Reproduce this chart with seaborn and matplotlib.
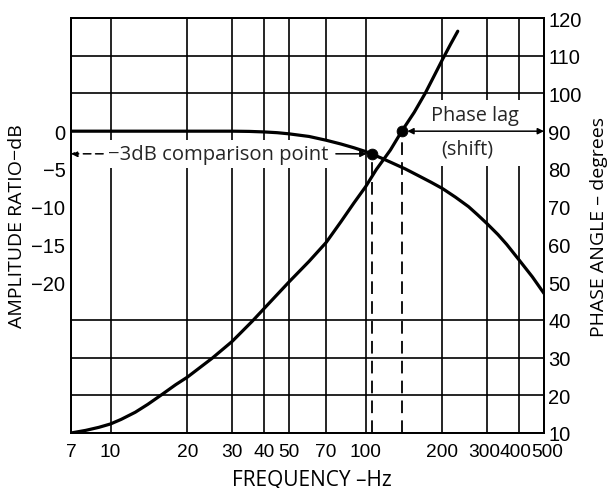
import matplotlib
matplotlib.use("Agg")
import matplotlib.pyplot as plt
import matplotlib.transforms as mtransforms
import seaborn as sns
import pandas as pd
from matplotlib.ticker import FixedLocator, NullFormatter, NullLocator
from matplotlib.patches import Rectangle

# ---- data ----
amp_freq = [7, 20, 30, 35, 40, 45, 50, 60, 70, 80, 90, 100, 106, 115, 125, 143, 160, 180, 200,
            225, 253, 275, 300, 330, 357, 400, 450, 500]
amp_db = [0, 0, 0, -0.03, -0.1, -0.2, -0.35, -0.7, -1.2, -1.7, -2.2, -2.7, -3.05, -3.55, -4.1,
          -5.0, -5.85, -6.75, -7.6, -8.75, -10.0, -11.1, -12.3, -13.7, -15.0, -17.1, -19.3, -21.5]

phase_freq = [7, 8, 9, 10, 11, 12.5, 14, 15.9, 18, 20, 25, 30, 35.9, 40, 50, 60, 70, 80, 90,
              100, 110, 125, 138.5, 155, 171, 185, 200, 215, 229.6]
phase_deg = [10, 10.7, 11.5, 12.4, 13.6, 15.5, 17.6, 20.2, 22.8, 24.8, 29.8, 34.3, 39.6, 43,
             50, 55.5, 60.5, 66, 71, 75.3, 79.8, 85, 90, 95, 100, 104.5, 109, 113, 116.5]

cutoff_hz = [106]
cutoff_db = [-3]
lag_hz = [138.5]
lag_deg = [90]

x_ticks = [7, 10, 20, 30, 40, 50, 70, 100, 200, 300, 400, 500]
x_labels = ["7", "10", "20", "30", "40", "50", "70", "100", "200", "300", "400", "500"]
x_label_shift_px = [0, 0, 0, 0, 0, 0, 0, 0, 0, -3, -3.5, 3]
db_ticks = [0, -5, -10, -15, -20]
db_labels = ["0", "\u22125", "\u221210", "\u221215", "\u221220"]
db_grid = [-40, -35, -30, -25, -20, -15, -10, -5, 0, 5, 10, 15]
deg_ticks = [10, 20, 30, 40, 50, 60, 70, 80, 90, 100, 110, 120]

amp_df = pd.DataFrame({"freq": amp_freq, "db": amp_db})
phase_df = pd.DataFrame({"freq": phase_freq, "deg": phase_deg})

sns.set_theme(style="white")
plt.rcParams["font.family"] = ["Open Sans", "DejaVu Sans"]
plt.rcParams["axes.edgecolor"] = "black"
plt.rcParams["axes.linewidth"] = 1.3
tick_font = ["Liberation Sans", "DejaVu Sans"]

fig = plt.figure(figsize=(6.16, 4.89), dpi=100)
ax = fig.add_axes([71 / 616, 1 - 434 / 489, 473 / 616, 415 / 489])
ax2 = ax.twinx()

ax.set_xscale("log")
ax.set_xlim(7, 500)
ax.set_ylim(-40, 15)
ax2.set_ylim(10, 120)

# grid
ax.xaxis.set_major_locator(FixedLocator(x_ticks))
ax.xaxis.set_minor_locator(NullLocator())
ax.set_xticklabels(x_labels, family=tick_font)
ax.set_yticks(db_ticks)
ax.set_yticklabels(db_labels, family=tick_font)
ax.yaxis.set_minor_locator(FixedLocator(db_grid))
ax.yaxis.set_minor_formatter(NullFormatter())
ax.set_axisbelow(True)
ax.grid(True, axis="x", which="major", color="black", lw=1.2)
ax.grid(True, axis="y", which="minor", color="black", lw=1.2)
ax.grid(False, axis="y", which="major")
ax2.set_yticks(deg_ticks)
ax2.set_yticklabels([str(d) for d in deg_ticks], family=tick_font)
ax2.grid(False)

for a in (ax, ax2):
    a.tick_params(axis="both", which="both", length=0, labelsize=14.5, colors="black")
ax.tick_params(axis="x", pad=7, labelsize=13.8)
ax.tick_params(axis="y", pad=4)
ax2.tick_params(axis="y", pad=3)
for s in list(ax.spines.values()) + list(ax2.spines.values()):
    s.set_color("black")

for lab, dx in zip(ax.get_xticklabels(), x_label_shift_px):
    if dx:
        lab.set_transform(lab.get_transform() +
                          mtransforms.ScaledTranslation(dx / 100, 0, fig.dpi_scale_trans))

# curves
sns.lineplot(data=amp_df, x="freq", y="db", ax=ax, color="black", lw=2.3, zorder=4,
             sort=False, estimator=None)
sns.lineplot(data=phase_df, x="freq", y="deg", ax=ax2, color="black", lw=2.3, zorder=4,
             sort=False, estimator=None)

# dashed drop lines
ax.plot([cutoff_hz[0], cutoff_hz[0]], [ax.get_ylim()[0], cutoff_db[0]], color="black",
        lw=1.3, ls=(0, (7, 4)), zorder=3)
ax2.plot([lag_hz[0], lag_hz[0]], [ax2.get_ylim()[0], lag_deg[0]], color="black",
         lw=1.3, ls=(0, (7, 4)), zorder=3)

# points
sns.scatterplot(x=cutoff_hz, y=cutoff_db, ax=ax, color="black", s=60, zorder=6, edgecolor="black")
sns.scatterplot(x=lag_hz, y=lag_deg, ax=ax2, color="black", s=60, zorder=6, edgecolor="black")

# -3 dB annotation
ytr = ax.get_yaxis_transform()
ax.text(0.078, cutoff_db[0], "\u22123dB comparison point", transform=ytr, ha="left", va="center",
        fontsize=14.6, zorder=3, bbox=dict(facecolor="white", edgecolor="none", pad=3.0))
ax.annotate("", xy=(0.0, cutoff_db[0]), xycoords=ytr, xytext=(0.068, cutoff_db[0]), textcoords=ytr,
            arrowprops=dict(arrowstyle="-|>", color="black", lw=1.1, ls=(0, (5, 3)),
                            mutation_scale=9, shrinkA=0, shrinkB=0), zorder=5)
ax.annotate("", xy=(cutoff_hz[0], cutoff_db[0]), xycoords="data", xytext=(0.56, cutoff_db[0]),
            textcoords=ytr,
            arrowprops=dict(arrowstyle="-|>", color="black", lw=1.1, mutation_scale=9,
                            shrinkA=0, shrinkB=4), zorder=5)

# phase lag annotation
ax.add_patch(Rectangle((0.717, 0.643), 0.277, 0.159, transform=ax.transAxes,
                       facecolor="white", edgecolor="none", zorder=2.5))
ytr2 = ax2.get_yaxis_transform()
ax2.text(0.854, 94.2, "Phase lag", transform=ytr2, ha="center", va="center", fontsize=14.3, zorder=5)
ax2.text(0.837, 85.4, "(shift)", transform=ytr2, ha="center", va="center", fontsize=14.3, zorder=5)
ax2.annotate("", xy=(1.0, lag_deg[0]), xycoords=ytr2, xytext=(lag_hz[0], lag_deg[0]),
             textcoords="data",
             arrowprops=dict(arrowstyle="<|-|>", color="black", lw=1.1, mutation_scale=9,
                             shrinkA=4, shrinkB=0), zorder=5)

ax.set_xlabel("FREQUENCY \u2013Hz", fontsize=15, color="black", labelpad=1)
ax.xaxis.set_label_coords(0.51, -0.085)
ax.set_ylabel("AMPLITUDE RATIO\u2212dB", fontsize=14, color="black", labelpad=4)
ax2.set_ylabel("PHASE ANGLE \u2013 degrees", fontsize=14, color="black", labelpad=6)

fig.savefig("out.png", dpi=100, facecolor="white")
